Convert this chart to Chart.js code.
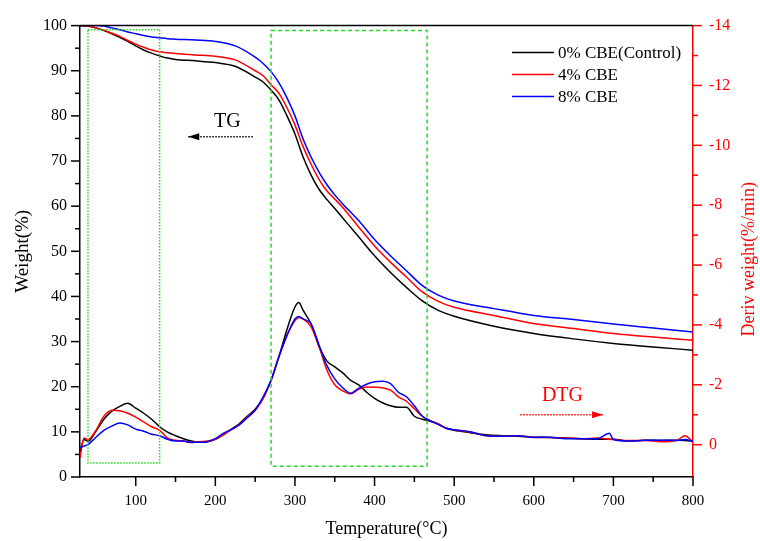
<!DOCTYPE html>
<html>
<head>
<meta charset="utf-8">
<script src="https://cdn.jsdelivr.net/npm/chart.js@4.4.0/dist/chart.umd.min.js"></script>
<style>
  html, body { margin: 0; padding: 0; background: #fff; }
</style>
</head>
<body>
<canvas id="tga-chart" width="760" height="541"></canvas>
<script>
const seriesNames = ['0% CBE(Control)', '4% CBE', '8% CBE'];
const seriesColors = ['#000000', '#ff0000', '#0000ff'];

// TG curves, weight (%) vs temperature (°C)
const tgTemps = [30, 40, 50, 60, 70, 80, 90, 100, 110, 120, 130, 140, 150, 175, 200, 225, 250, 260, 270, 280, 290, 300, 310, 320, 330, 340, 350, 360, 380, 400, 420, 440, 460, 480, 500, 550, 600, 650, 700, 750, 800];
const tgControl = [100, 99.9, 99.5, 98.9, 98.2, 97.4, 96.5, 95.5, 94.6, 93.9, 93.3, 92.8, 92.5, 92.2, 91.8, 91.0, 88.6, 87.5, 85.7, 83.5, 80.0, 76.0, 71.0, 67.0, 63.8, 61.5, 59.5, 57.4, 53.2, 49.0, 45.3, 42.0, 39.0, 36.9, 35.6, 33.4, 31.8, 30.6, 29.6, 28.8, 28.1];
const tg4 = [100, 99.9, 99.5, 99.0, 98.3, 97.6, 96.7, 95.9, 95.2, 94.6, 94.2, 94.0, 93.8, 93.5, 93.2, 92.4, 90.0, 88.9, 86.9, 85.0, 81.8, 78.0, 73.3, 69.4, 66.0, 63.4, 61.6, 59.7, 55.4, 51.2, 47.6, 44.3, 41.0, 38.9, 37.6, 35.8, 34.0, 32.9, 31.8, 31.0, 30.3];
const tg8 = [100, 100, 100, 99.9, 99.5, 99.1, 98.6, 98.2, 97.8, 97.5, 97.3, 97.1, 97.0, 96.8, 96.5, 95.5, 93.0, 91.6, 89.8, 87.3, 84.0, 80.0, 75.0, 71.0, 67.6, 64.8, 62.5, 60.5, 56.8, 52.6, 49.0, 45.7, 42.4, 40.3, 39.0, 37.3, 35.8, 34.9, 33.9, 33.0, 32.1];

// DTG curves, deriv weight (%/min) vs temperature (°C)
const dtgTemps = [30, 35, 40, 50, 60, 70, 80, 90, 100, 110, 120, 130, 140, 150, 160, 170, 180, 190, 200, 210, 220, 230, 240, 250, 260, 270, 280, 290, 300, 305, 310, 320, 330, 340, 350, 360, 370, 380, 390, 400, 410, 420, 430, 440, 450, 460, 470, 480, 490, 500, 520, 540, 560, 580, 600, 620, 640, 660, 680, 695, 700, 720, 740, 760, 780, 790, 800];
const dtgControl = [0.25, -0.17, -0.11, -0.45, -0.85, -1.12, -1.28, -1.38, -1.22, -1.05, -0.85, -0.6, -0.42, -0.3, -0.2, -0.12, -0.08, -0.1, -0.18, -0.33, -0.52, -0.7, -0.95, -1.18, -1.55, -2.15, -2.95, -3.85, -4.6, -4.75, -4.5, -4.05, -3.3, -2.8, -2.6, -2.4, -2.15, -2.0, -1.75, -1.55, -1.4, -1.3, -1.25, -1.25, -0.95, -0.85, -0.78, -0.68, -0.55, -0.48, -0.4, -0.33, -0.3, -0.28, -0.25, -0.24, -0.22, -0.2, -0.18, -0.18, -0.18, -0.12, -0.15, -0.14, -0.15, -0.14, -0.11];
const dtg4 = [0.45, -0.22, -0.17, -0.48, -0.95, -1.15, -1.13, -1.05, -0.92, -0.76, -0.6, -0.48, -0.22, -0.15, -0.12, -0.07, -0.1, -0.12, -0.18, -0.33, -0.5, -0.68, -0.92, -1.15, -1.55, -2.15, -2.95, -3.65, -4.15, -4.25, -4.2, -3.95, -3.3, -2.5, -2.0, -1.8, -1.7, -1.85, -1.93, -1.92, -1.9, -1.82, -1.6, -1.45, -1.2, -0.95, -0.8, -0.7, -0.55, -0.5, -0.42, -0.3, -0.28, -0.3, -0.25, -0.24, -0.22, -0.2, -0.22, -0.18, -0.17, -0.14, -0.14, -0.1, -0.15, -0.3, -0.08];
const dtg8 = [0.1, 0.05, 0.0, -0.25, -0.48, -0.62, -0.72, -0.66, -0.52, -0.45, -0.35, -0.3, -0.18, -0.12, -0.12, -0.08, -0.08, -0.1, -0.2, -0.38, -0.5, -0.66, -0.9, -1.15, -1.6, -2.15, -2.95, -3.65, -4.2, -4.28, -4.2, -4.05, -3.35, -2.65, -2.2, -1.9, -1.72, -1.88, -2.02, -2.1, -2.12, -2.04, -1.75, -1.6, -1.3, -0.95, -0.8, -0.68, -0.55, -0.5, -0.43, -0.3, -0.28, -0.3, -0.24, -0.25, -0.2, -0.2, -0.2, -0.38, -0.17, -0.12, -0.15, -0.15, -0.14, -0.17, -0.12];

const tgSeries = [tgControl, tg4, tg8];
const dtgSeries = [dtgControl, dtg4, dtg8];

const serif = 'Liberation Serif, Times New Roman, serif';

function pairs(xs, ys) {
  return xs.map((x, i) => ({ x: x, y: ys[i] }));
}

const datasets = [];
seriesNames.forEach((name, i) => {
  datasets.push({
    label: name,
    data: pairs(tgTemps, tgSeries[i]),
    borderColor: seriesColors[i],
    borderWidth: 1.5,
    pointRadius: 0,
    cubicInterpolationMode: 'monotone',
    yAxisID: 'y',
    order: 3 - i
  });
});
seriesNames.forEach((name, i) => {
  datasets.push({
    label: name + ' DTG',
    data: pairs(dtgTemps, dtgSeries[i]),
    borderColor: seriesColors[i],
    borderWidth: 1.5,
    pointRadius: 0,
    cubicInterpolationMode: 'monotone',
    yAxisID: 'y2',
    order: 3 - i
  });
});

// hand-drawn extras: tick marks, top frame, right title, legend, boxes, arrows
const extras = {
  id: 'extras',
  afterDraw(chart) {
    const ctx = chart.ctx;
    const area = chart.chartArea;
    const sx = chart.scales.x, sy = chart.scales.y, s2 = chart.scales.y2;
    ctx.save();

    // top frame line
    ctx.strokeStyle = '#000';
    ctx.lineWidth = 1.5;
    ctx.beginPath();
    ctx.moveTo(area.left, area.top);
    ctx.lineTo(area.right, area.top);
    ctx.stroke();

    // tick marks
    ctx.lineWidth = 1.5;
    sx.ticks.forEach(t => {
      const px = sx.getPixelForValue(t.value);
      const len = t.value % 100 === 0 ? 9 : 5;
      ctx.beginPath();
      ctx.moveTo(px, area.bottom);
      ctx.lineTo(px, area.bottom + len);
      ctx.stroke();
    });
    sy.ticks.forEach(t => {
      const py = sy.getPixelForValue(t.value);
      const len = t.value % 10 === 0 ? 9 : 5;
      ctx.beginPath();
      ctx.moveTo(area.left, py);
      ctx.lineTo(area.left - len, py);
      ctx.stroke();
    });
    ctx.strokeStyle = '#ff0000';
    s2.ticks.forEach(t => {
      const py = s2.getPixelForValue(t.value);
      const len = t.value % 2 === 0 ? 9 : 5;
      ctx.beginPath();
      ctx.moveTo(area.right, py);
      ctx.lineTo(area.right + len, py);
      ctx.stroke();
    });

    // right axis title, reading bottom to top
    ctx.save();
    ctx.translate(area.right + 56, (area.top + area.bottom) / 2 + 8);
    ctx.rotate(-Math.PI / 2);
    ctx.font = '18px ' + serif;
    ctx.fillStyle = '#ff0000';
    ctx.textAlign = 'center';
    ctx.textBaseline = 'middle';
    ctx.fillText('Deriv weight(%/min)', 0, 0);
    ctx.restore();

    // green boxes
    ctx.strokeStyle = '#22dd22';
    ctx.lineWidth = 1.5;
    ctx.setLineDash([1.5, 1.5]);
    ctx.strokeRect(sx.getPixelForValue(40), sy.getPixelForValue(99.1),
      sx.getPixelForValue(130) - sx.getPixelForValue(40),
      sy.getPixelForValue(3.1) - sy.getPixelForValue(99.1));
    ctx.setLineDash([4, 3]);
    ctx.strokeRect(sx.getPixelForValue(270), sy.getPixelForValue(98.9),
      sx.getPixelForValue(466) - sx.getPixelForValue(270),
      sy.getPixelForValue(2.4) - sy.getPixelForValue(98.9));

    // arrows
    function arrow(x1, x2, yv, color, dir) {
      const a = sx.getPixelForValue(x1), b = sx.getPixelForValue(x2);
      const y = sy.getPixelForValue(yv);
      ctx.strokeStyle = color;
      ctx.fillStyle = color;
      ctx.lineWidth = 1.5;
      ctx.setLineDash([1.5, 1.5]);
      ctx.beginPath();
      ctx.moveTo(a, y);
      ctx.lineTo(b, y);
      ctx.stroke();
      ctx.setLineDash([]);
      const tip = dir < 0 ? a : b;
      ctx.beginPath();
      ctx.moveTo(tip, y);
      ctx.lineTo(tip - dir * 11, y - 3.5);
      ctx.lineTo(tip - dir * 11, y + 3.5);
      ctx.closePath();
      ctx.fill();
    }
    arrow(166, 248, 75.4, '#000', -1);
    arrow(583, 687, 13.8, '#ff0000', 1);

    ctx.font = '20px ' + serif;
    ctx.textAlign = 'center';
    ctx.textBaseline = 'middle';
    ctx.fillStyle = '#000';
    ctx.fillText('TG', sx.getPixelForValue(215), sy.getPixelForValue(78.6));
    ctx.fillStyle = '#ff0000';
    ctx.fillText('DTG', sx.getPixelForValue(636), sy.getPixelForValue(18.0));

    // legend
    ctx.font = '17px ' + serif;
    ctx.textAlign = 'left';
    ctx.lineWidth = 1.5;
    seriesNames.forEach((name, i) => {
      const y = area.top + 27 + i * 22;
      ctx.strokeStyle = seriesColors[i];
      ctx.beginPath();
      ctx.moveTo(area.right - 181, y);
      ctx.lineTo(area.right - 139, y);
      ctx.stroke();
      ctx.fillStyle = '#000';
      ctx.fillText(name, area.right - 135, y + 1);
    });

    ctx.restore();
  }
};

new Chart(document.getElementById('tga-chart'), {
  type: 'line',
  data: { datasets: datasets },
  options: {
    responsive: false,
    animation: false,
    devicePixelRatio: 1,
    layout: { padding: { top: 22, left: 0, right: 0, bottom: 0 } },
    plugins: { legend: { display: false }, tooltip: { enabled: false } },
    scales: {
      x: {
        type: 'linear',
        position: 'bottom',
        min: 30,
        max: 800,
        afterBuildTicks: s => { s.ticks = s.ticks.filter(t => t.value % 50 === 0); },
        afterFit: s => { s.height = 64; },
        border: { color: '#000', width: 1.5 },
        grid: { drawOnChartArea: false, drawTicks: false },
        ticks: {
          stepSize: 50,
          autoSkip: false,
          maxRotation: 0,
          padding: 15,
          color: '#000',
          font: { family: serif, size: 15 },
          callback: v => (v % 100 === 0 ? v : '')
        },
        title: {
          display: true,
          text: 'Temperature(°C)',
          color: '#000',
          font: { family: serif, size: 18 },
          padding: { top: 0, bottom: 1 }
        }
      },
      y: {
        position: 'left',
        min: 0,
        max: 100,
        afterBuildTicks: s => { s.ticks = s.ticks.filter(t => t.value % 5 === 0); },
        afterFit: s => { s.width = 80; },
        border: { color: '#000', width: 1.5 },
        grid: { drawOnChartArea: false, drawTicks: false },
        ticks: {
          stepSize: 5,
          autoSkip: false,
          padding: 13,
          color: '#000',
          font: { family: serif, size: 16 },
          callback: v => (v % 10 === 0 ? v : '')
        },
        title: {
          display: true,
          text: 'Weight(%)',
          color: '#000',
          font: { family: serif, size: 19 },
          padding: { top: 12, bottom: 0 }
        }
      },
      y2: {
        position: 'right',
        reverse: true,
        min: -14,
        max: 1.08,
        afterBuildTicks: s => { s.ticks = s.ticks.filter(t => Number.isInteger(t.value)); },
        afterFit: s => { s.width = 67; },
        border: { color: '#ff0000', width: 1.5 },
        grid: { drawOnChartArea: false, drawTicks: false },
        ticks: {
          stepSize: 1,
          autoSkip: false,
          padding: 16,
          color: '#ff0000',
          font: { family: serif, size: 16 },
          callback: v => (v % 2 === 0 ? v : '')
        },
        title: { display: false }
      }
    }
  },
  plugins: [extras]
});
</script>
</body>
</html>
